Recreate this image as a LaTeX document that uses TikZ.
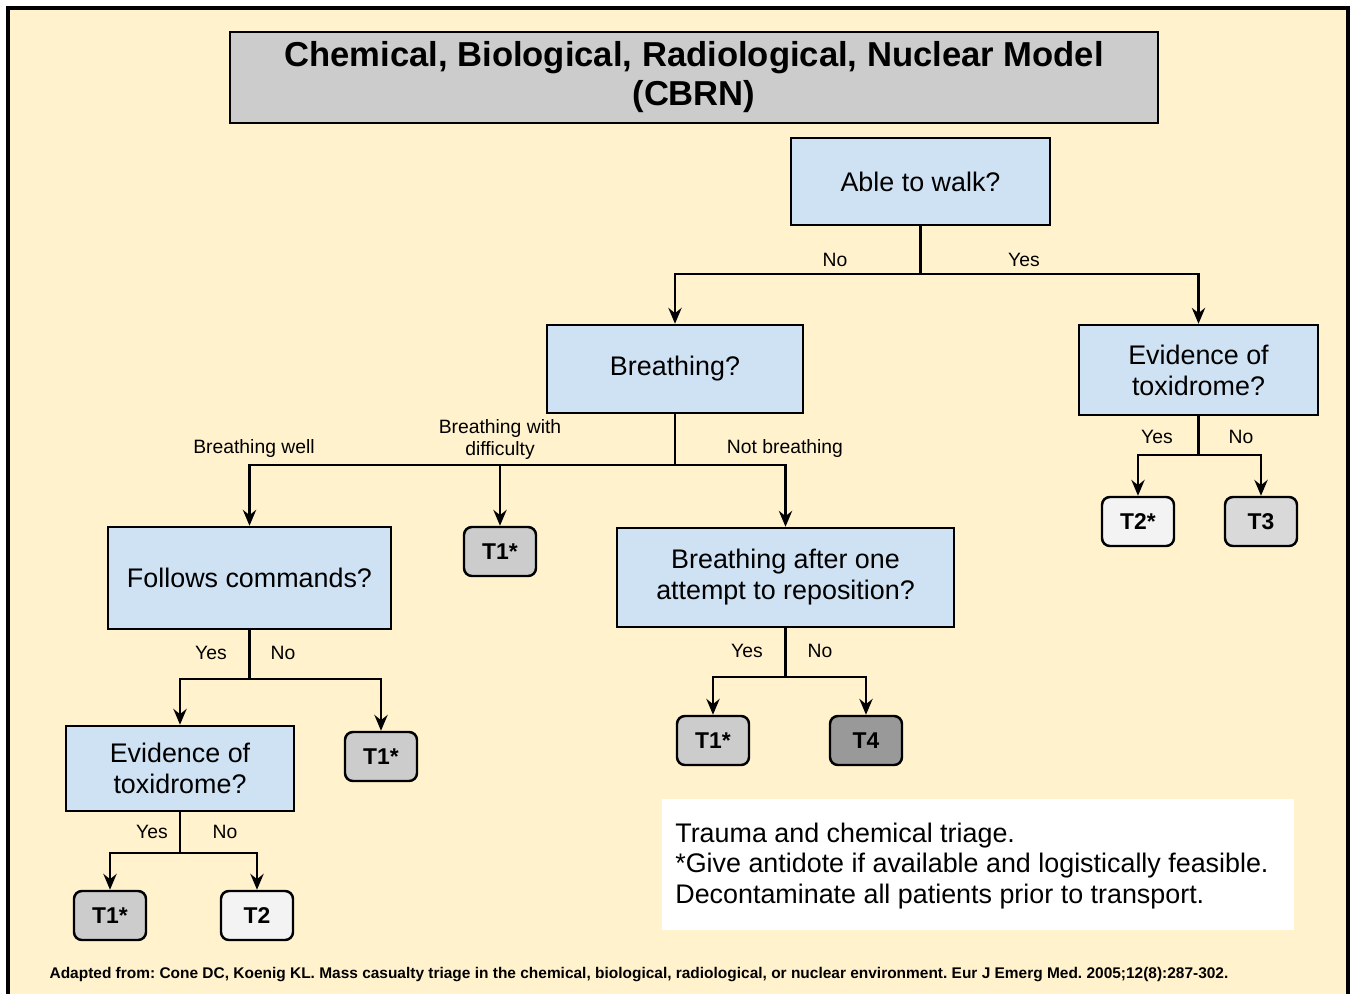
\documentclass[tikz,border=0pt]{standalone}
\usepackage{fontspec}
\setmainfont{Liberation Sans}
\usetikzlibrary{arrows.meta}
\definecolor{cream}{HTML}{FFF2CC}
\definecolor{qblue}{HTML}{CFE2F3}
\definecolor{tgrey}{HTML}{CCCCCC}
\definecolor{tlight}{HTML}{F3F3F3}
\definecolor{tmid}{HTML}{D9D9D9}
\definecolor{tdark}{HTML}{999999}
\frenchspacing
\begin{document}
\begin{tikzpicture}[x=0.02cm, y=-0.02cm]
    \tikzset{box/.style={draw, line width=1.4pt, fill=qblue, align=center, inner sep=0pt, font=\fontsize{15.3}{17.6}\selectfont},
             tbox/.style={draw, line width=1.4pt, rounded corners=4.5pt, minimum width=1.44cm, minimum height=0.98cm, inner sep=0pt, font=\bfseries\fontsize{13}{15}\selectfont},
             lbl/.style={align=center, inner sep=0pt, font=\fontsize{11}{13}\selectfont},
             ln/.style={line width=1.5pt},
             arr/.style={line width=1.5pt, -{Stealth[length=9pt, width=7.5pt]}}}

    % ---- Page and frame ----
    \useasboundingbox (0,0) rectangle (1353,994);
    \clip (0,0) rectangle (1353,994);
    \fill[white] (0,0) rectangle (1353,994);
    \draw[line width=1.8pt, fill=cream] (8,8) rectangle (1348,1020);

    % ---- Title ----
    \node[draw, line width=1.4pt, fill=tgrey, minimum width=18.56cm, minimum height=1.82cm, align=center, inner sep=0pt,
          font=\bfseries\fontsize{19.7}{22.2}\selectfont] (title) at (694,77.5)
          {Chemical, Biological, Radiological, Nuclear Model\\(CBRN)};

    % ---- Question boxes ----
    \node[box, minimum width=5.18cm, minimum height=1.74cm] (walk) at (920.5,181.5) {Able to walk?};
    \node[box, minimum width=5.12cm, minimum height=1.76cm] (breath) at (675,369) {Breathing?};
    \node[box, minimum width=4.78cm, minimum height=1.80cm] (toxR) at (1198.5,370) {Evidence of\\toxidrome?};
    \node[box, minimum width=5.66cm, minimum height=2.04cm] (follow) at (249.5,578) {Follows commands?};
    \node[box, minimum width=6.74cm, minimum height=1.98cm] (repos) at (785.5,577.5) {Breathing after one\\attempt to reposition?};
    \node[box, minimum width=4.56cm, minimum height=1.70cm] (toxL) at (180,768.5) {Evidence of\\toxidrome?};

    % ---- Triage categories ----
    \node[tbox, fill=tgrey] (t1a) at (500,551.5) {T1*};
    \node[tbox, fill=tgrey] (t1b) at (381,756.5) {T1*};
    \node[tbox, fill=tgrey] (t1c) at (713,740.5) {T1*};
    \node[tbox, fill=tdark] (t4) at (866,740.5) {T4};
    \node[tbox, fill=tgrey] (t1d) at (110,915.5) {T1*};
    \node[tbox, fill=tlight] (t2) at (257,915.5) {T2};
    \node[tbox, fill=tlight] (t2s) at (1138,521.5) {T2*};
    \node[tbox, fill=tmid] (t3) at (1261,521.5) {T3};

    % ---- Connectors ----
    \coordinate (j1) at (920.5,274);
    \coordinate (j2) at (675,465);
    \coordinate (j3) at (1198.5,455);
    \coordinate (j4) at (249.5,679);
    \coordinate (j5) at (785.5,677);
    \coordinate (j6) at (180,853);
    \draw[ln] (walk) -- (j1);
    \draw[arr] (j1) -| (breath);
    \draw[arr] (j1) -| (toxR);
    \draw[ln] (breath) -- (j2);
    \draw[arr] (j2) -| (follow);
    \draw[arr] (j2) -| (t1a);
    \draw[arr] (j2) -| (repos);
    \draw[ln] (toxR) -- (j3);
    \draw[arr] (j3) -| (t2s);
    \draw[arr] (j3) -| (t3);
    \draw[ln] (follow) -- (j4);
    \draw[arr] (j4) -| (toxL);
    \draw[arr] (j4) -| (t1b);
    \draw[ln] (repos) -- (j5);
    \draw[arr] (j5) -| (t1c);
    \draw[arr] (j5) -| (t4);
    \draw[ln] (toxL) -- (j6);
    \draw[arr] (j6) -| (t1d);
    \draw[arr] (j6) -| (t2);

    % ---- Branch labels ----
    \node[lbl] (wno) at (835,260) {No};
    \node[lbl] (wyes) at (1024,260) {Yes};
    \node[lbl] (bwell) at (254,448) {Breathing well};
    \node[lbl] (bdiff) at (500,439.5) {Breathing with\\difficulty};
    \node[lbl] (bnot) at (785,448) {Not breathing};
    \node[lbl] (ryes) at (1157,437) {Yes};
    \node[lbl] (rno) at (1241,437) {No};
    \node[lbl] (fyes) at (211,653) {Yes};
    \node[lbl] (fno) at (283,653) {No};
    \node[lbl] (pyes) at (747,651) {Yes};
    \node[lbl] (pno) at (820,651) {No};
    \node[lbl] (lyes) at (152,832) {Yes};
    \node[lbl] (lno) at (225,832) {No};

    % ---- Note and source ----
    \node[fill=white, minimum width=12.64cm, minimum height=2.62cm, inner sep=0pt] (notebg) at (978,864.5) {};
    \node[anchor=west, align=left, inner sep=0pt, font=\fontsize{15.3}{17.6}\selectfont] (note) at (675,866)
          {Trauma and chemical triage.\\*Give antidote if available and logistically feasible.\\Decontaminate all patients prior to transport.};
    \node[inner sep=0pt, font=\bfseries\fontsize{8.8}{10}\selectfont] (src) at (639,975)
          {Adapted from: Cone DC, Koenig KL. Mass casualty triage in the chemical, biological, radiological, or nuclear environment. Eur J Emerg Med. 2005;12(8):287-302.};
\end{tikzpicture}
\end{document}
